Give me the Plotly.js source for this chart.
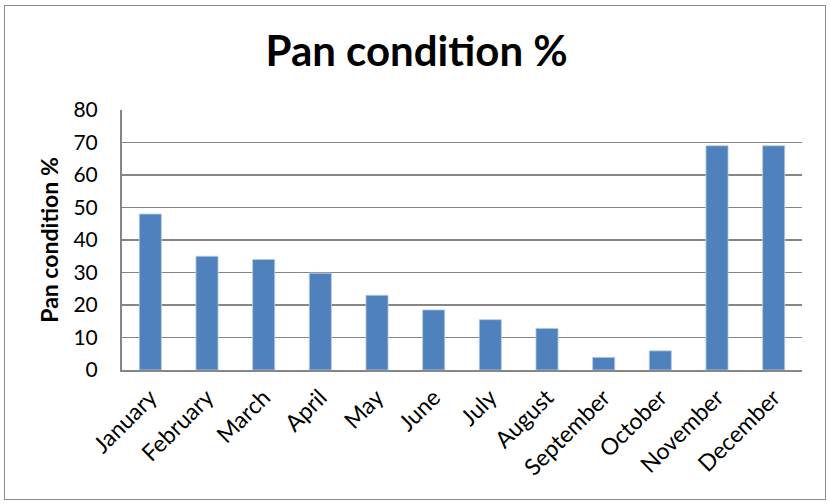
<!DOCTYPE html>
<html>
<head>
<meta charset="utf-8">
<script src="https://cdn.plot.ly/plotly-3.0.1.min.js"></script>
<style>
  html, body { margin: 0; padding: 0; background: #fff; }
  #wrap { position: relative; width: 830px; height: 504px; }
  #chart { position: absolute; left: 0; top: 0; width: 830px; height: 504px; }
  #frame { position: absolute; left: 4px; top: 5px; width: 820px; height: 493px; border: 1.5px solid #8c8c8c; pointer-events: none; }
</style>
</head>
<body>
<div id="wrap"><div id="chart"></div><div id="frame"></div></div>
<script>
const months = ["January", "February", "March", "April", "May", "June", "July", "August", "September", "October", "November", "December"];
const panCondition = [48, 35, 34, 29.8, 23, 18.5, 15.5, 12.8, 3.9, 5.9, 69, 69];
const yTicks = [0, 10, 20, 30, 40, 50, 60, 70, 80];

const FONT = "Lato, 'Open Sans', sans-serif";

Plotly.newPlot("chart", [{
  type: "bar",
  x: months,
  y: panCondition,
  marker: { color: "#4f81bd", line: { color: "#b9cde5", width: 0.8 } },
  hoverinfo: "x+y"
}], {
  width: 830, height: 504,
  margin: { l: 122, r: 28, t: 110, b: 134 },
  paper_bgcolor: "#fff", plot_bgcolor: "#fff",
  bargap: 0.61,
  showlegend: false,
  title: { text: "<b>Pan condition %</b>", x: 0.502, xanchor: "center", y: 0.898, yanchor: "middle",
           font: { family: FONT, size: 42, color: "#000" } },
  xaxis: {
    type: "category",
    tickangle: -45,
    tickfont: { family: FONT, size: 23, color: "#000" },
    showline: true, linecolor: "#868686", linewidth: 2,
    showgrid: false, ticks: "", fixedrange: true,
    ticklabelstandoff: 3
  },
  yaxis: {
    range: [0, 80],
    tickvals: yTicks,
    ticktext: yTicks.map(String),
    tickfont: { family: FONT, size: 21, color: "#000" },
    showline: true, linecolor: "#868686", linewidth: 2,
    showgrid: true, gridcolor: "#868686", gridwidth: 1.5,
    zeroline: false, ticks: "", ticklen: 0,
    ticklabelstandoff: 18,
    title: { text: "<b>Pan condition %</b>", font: { family: FONT, size: 23, color: "#000" }, standoff: 8 },
    fixedrange: true
  }
}, { displayModeBar: false, staticPlot: true });
</script>
</body>
</html>
